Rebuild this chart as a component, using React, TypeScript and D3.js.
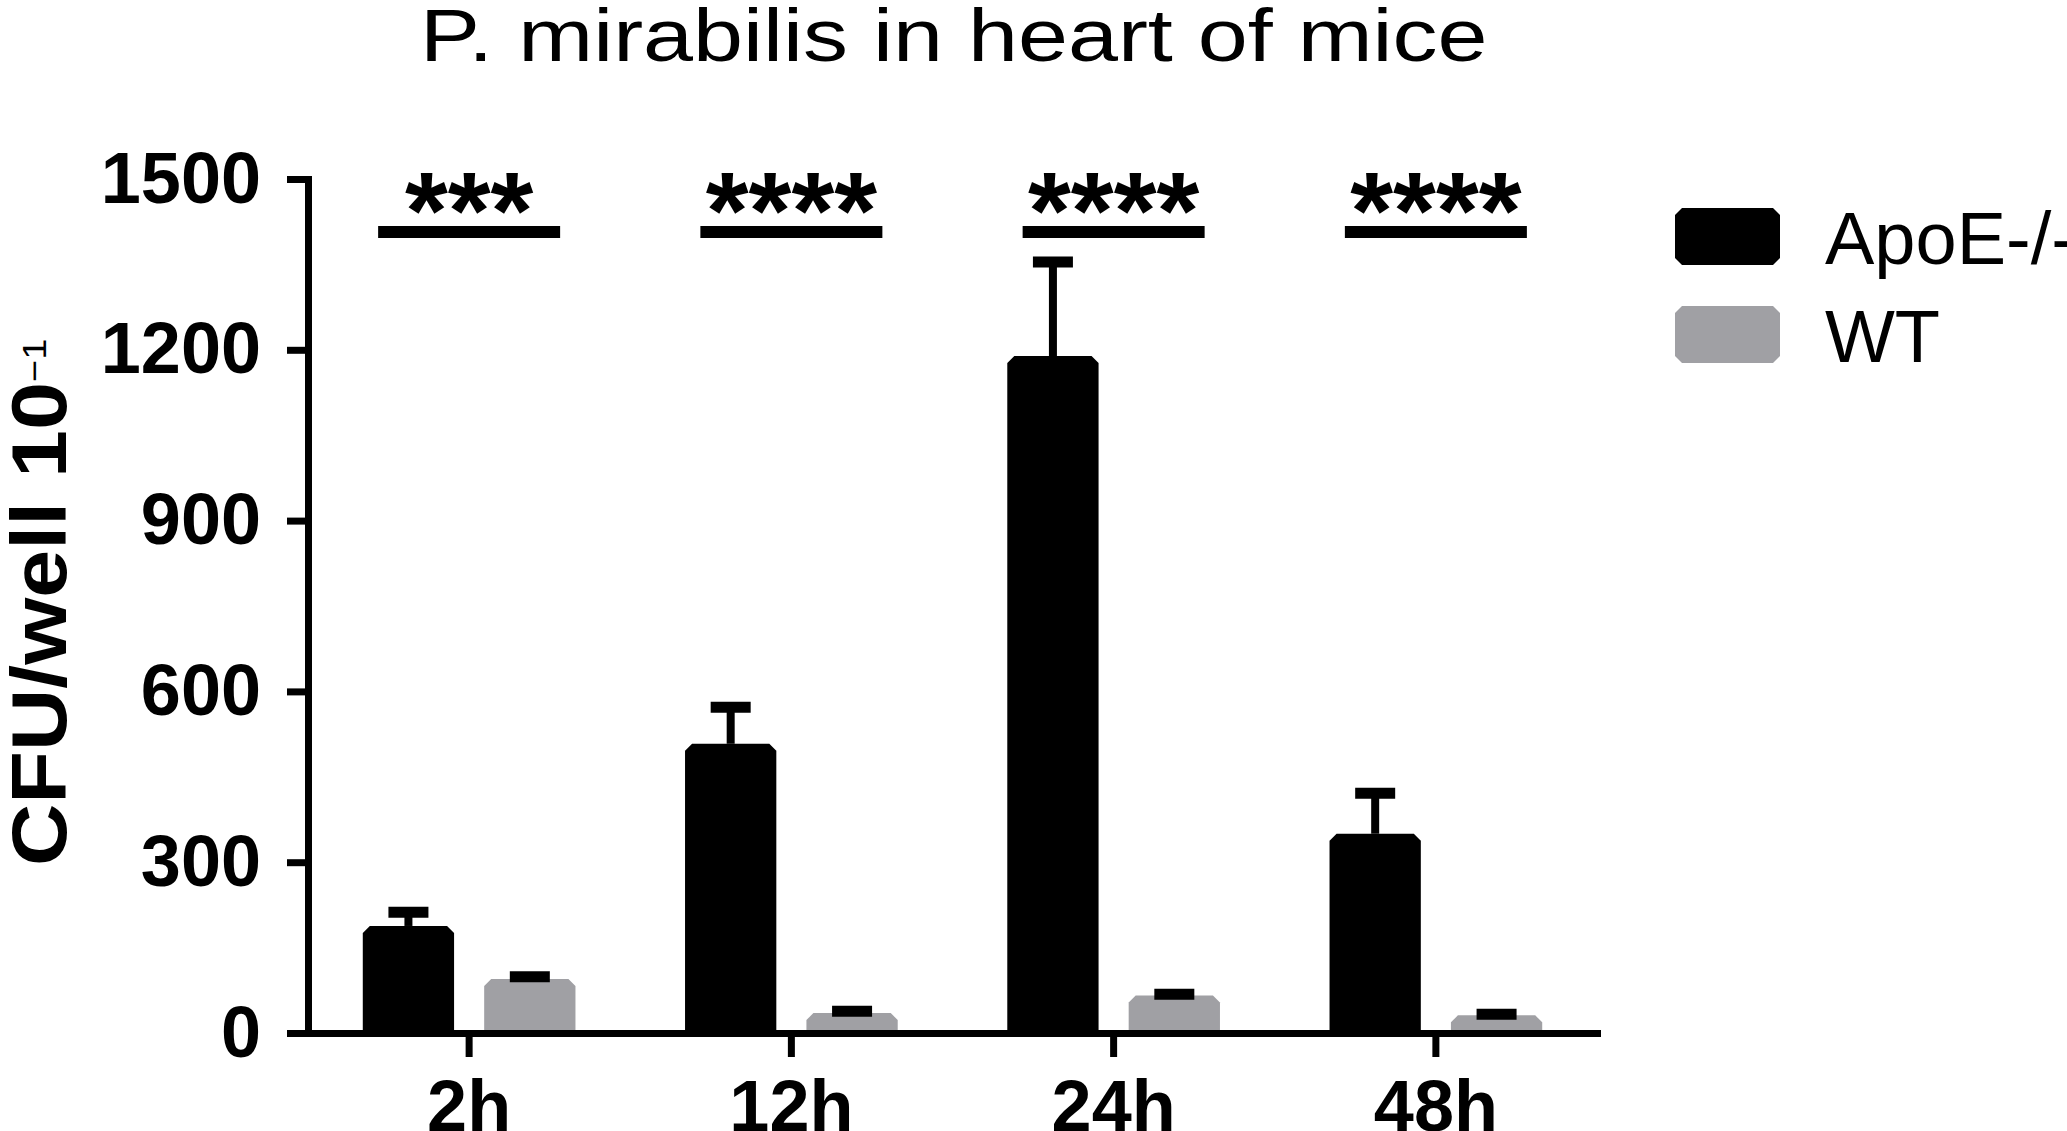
import React, { useEffect, useRef } from 'react';
import * as d3 from 'd3';

// data
const timePoints = ['2h', '12h', '24h', '48h'];
const groups = ['ApoE-/-', 'WT'];
const apoeMeans = [188, 508, 1189, 350];
const apoeSem = [24, 64, 165, 71];
const wtMeans = [95, 35, 66, 31];
const wtSem = [4, 3, 2, 2];
const sigLabels = ['***', '****', '****', '****'];
const sigLevel = 1407;
const yTicks = [0, 300, 600, 900, 1200, 1500];

const W = 2067;
const H = 1131;
const FONT = '"Liberation Sans", Arial, Helvetica, sans-serif';
const groupColors: Record<string, string> = { 'ApoE-/-': '#000000', WT: '#a0a0a4' };

interface Bar {
  time: string;
  group: string;
  mean: number;
  sem: number;
}

const bars: Bar[] = timePoints.flatMap((t, i) => [
  { time: t, group: groups[0], mean: apoeMeans[i], sem: apoeSem[i] },
  { time: t, group: groups[1], mean: wtMeans[i], sem: wtSem[i] },
]);

// rect with the top corners cut off (Prism-style bevel)
const barPath = (x: number, y: number, w: number, h: number, c: number) =>
  `M${x},${y + h}V${y + c}L${x + c},${y}H${x + w - c}L${x + w},${y + c}V${y + h}Z`;

const boxPath = (x: number, y: number, w: number, h: number, c: number) =>
  `M${x + c},${y}H${x + w - c}L${x + w},${y + c}V${y + h - c}L${x + w - c},${y + h}H${x + c}L${x},${y + h - c}V${y + c}Z`;

export default function App() {
  const svgRef = useRef<SVGSVGElement>(null);

  useEffect(() => {
    if (!svgRef.current) return;
    const svg = d3.select(svgRef.current);
    svg.selectAll('*').remove();

    const x0 = d3
      .scaleBand()
      .domain(timePoints)
      .range([308, 1597])
      .paddingInner(0.34)
      .paddingOuter(0.17);

    const x1 = d3
      .scaleBand()
      .domain(groups)
      .range([0, x0.bandwidth()])
      .paddingInner(0.248);

    const y = d3.scaleLinear().domain([0, 1500]).range([1033, 179]);

    // title (the original font is a bit wider than Arial, so stretch it)
    svg
      .append('text')
      .attr('transform', 'translate(420,61) scale(1.215,1)')
      .attr('font-size', 74)
      .text('P. mirabilis in heart of mice');

    // bars
    svg
      .append('g')
      .selectAll('path')
      .data(bars)
      .enter()
      .append('path')
      .attr('d', d => {
        const bx = x0(d.time)! + x1(d.group)!;
        return barPath(bx, y(d.mean), x1.bandwidth(), y(0) - y(d.mean), 7);
      })
      .attr('fill', d => groupColors[d.group]);

    // error bars (upper only)
    const err = svg
      .append('g')
      .selectAll('g')
      .data(bars)
      .enter()
      .append('g')
      .attr('transform', d => `translate(${x0(d.time)! + x1(d.group)! + x1.bandwidth() / 2},0)`);

    err
      .append('line')
      .attr('y1', d => y(d.mean))
      .attr('y2', d => y(d.mean + d.sem))
      .attr('stroke', '#000')
      .attr('stroke-width', 8);

    err
      .append('line')
      .attr('x1', -20)
      .attr('x2', 20)
      .attr('y1', d => y(d.mean + d.sem))
      .attr('y2', d => y(d.mean + d.sem))
      .attr('stroke', '#000')
      .attr('stroke-width', 11);

    // y axis
    const yAxis = svg
      .append('g')
      .attr('transform', `translate(308,0)`)
      .call(
        d3
          .axisLeft(y)
          .tickValues(yTicks)
          .tickFormat(d3.format('d'))
          .tickSize(21)
          .tickSizeOuter(0)
          .tickPadding(26)
      );

    // x axis
    const xAxis = svg
      .append('g')
      .attr('transform', `translate(0,${y(0)})`)
      .call(d3.axisBottom(x0).tickSize(24).tickSizeOuter(0).tickPadding(23));

    [yAxis, xAxis].forEach(ax => {
      ax.selectAll('path, line')
        .attr('stroke', '#000')
        .attr('stroke-width', 7)
        .attr('stroke-linecap', 'square');
      ax.selectAll('text')
        .attr('fill', '#000')
        .attr('font-size', 72)
        .attr('font-weight', 'bold')
        .attr('font-family', FONT);
    });
    yAxis.selectAll('.tick line').attr('stroke-linecap', 'butt');
    xAxis.selectAll('.tick line').attr('stroke-linecap', 'butt');

    // y label
    const yl = svg
      .append('text')
      .attr('transform', 'translate(66,866) rotate(-90) scale(1.12,1)')
      .attr('font-weight', 'bold');
    yl.append('tspan').attr('font-size', 77).text('CFU/well 10');
    yl.append('tspan')
      .attr('font-size', 34)
      .attr('font-weight', 'normal')
      .attr('dy', -20)
      .text('\u22121');

    // significance markers
    const sig = svg
      .append('g')
      .selectAll('g')
      .data(timePoints)
      .enter()
      .append('g')
      .attr('transform', d => `translate(${x0(d)! + x0.bandwidth() / 2},${y(sigLevel)})`);

    sig
      .append('line')
      .attr('x1', -91)
      .attr('x2', 91)
      .attr('stroke', '#000')
      .attr('stroke-width', 12);

    sig
      .append('text')
      .attr('y', 16)
      .attr('text-anchor', 'middle')
      .attr('font-size', 110)
      .attr('font-weight', 'bold')
      .text((d, i) => sigLabels[i]);

    // legend
    const legend = svg
      .append('g')
      .selectAll('g')
      .data(groups)
      .enter()
      .append('g')
      .attr('transform', (d, i) => `translate(1675,${208 + i * 98})`);

    legend
      .append('path')
      .attr('d', boxPath(0, 0, 105, 57, 7))
      .attr('fill', d => groupColors[d]);

    legend
      .append('text')
      .attr('x', 150)
      .attr('y', 56)
      .attr('font-size', 74)
      .text(d => d);
  }, []);

  return (
    <svg
      ref={svgRef}
      width={W}
      height={H}
      viewBox={`0 0 ${W} ${H}`}
      fontFamily={FONT}
      style={{ position: 'absolute', left: 0, top: 0, display: 'block', overflow: 'hidden', background: '#fff' }}
    />
  );
}
